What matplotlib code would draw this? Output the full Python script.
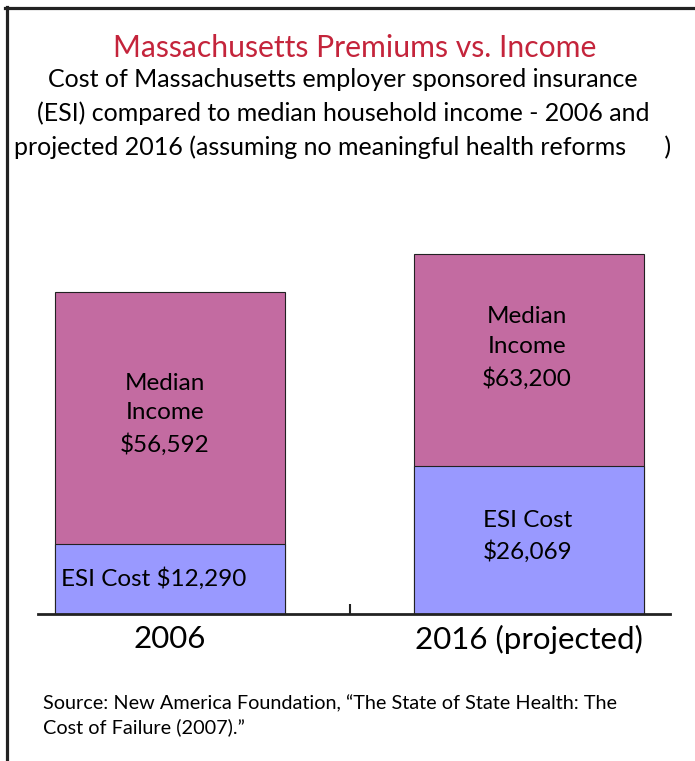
import matplotlib
matplotlib.use("Agg")
import matplotlib.pyplot as plt
from matplotlib.lines import Line2D

plt.rcParams["font.family"] = ["Lato", "DejaVu Sans"]

categories = ["2006", "2016 (projected)"]
median_income = [56592, 63200]
esi_cost = [12290, 26069]

income_labels = ["Median\nIncome\n$56,592", "Median\nIncome\n$63,200"]
esi_labels = ["ESI Cost $12,290", "ESI Cost\n$26,069"]

title = "Massachusetts Premiums vs. Income"
subtitle = ("Cost of Massachusetts employer sponsored insurance\n"
            "(ESI) compared to median household income - 2006 and\n"
            "projected 2016 (assuming no meaningful health reforms      )")
source = ("Source: New America Foundation, \u201cThe State of State Health: The\n"
          "Cost of Failure (2007).\u201d")

income_color = "#C36BA1"
esi_color = "#9999FF"

fig = plt.figure(figsize=(6.95, 7.61), dpi=100)
ax = fig.add_axes([38 / 695, 147 / 761, 632 / 695, 410 / 761])

x = [0, 1]
# income bar is full height, ESI bar drawn over its lower part
ax.bar(x, median_income, width=0.64, color=income_color, edgecolor="#222222", linewidth=0.8, zorder=2)
ax.bar(x, esi_cost, width=0.64, color=esi_color, edgecolor="#222222", linewidth=0.8, zorder=3)

ax.set_xlim(-0.368, 1.393)
ax.set_ylim(0, 72000)

for s in ["left", "right", "top"]:
    ax.spines[s].set_visible(False)
ax.spines["bottom"].set_linewidth(2)
ax.spines["bottom"].set_color("#222222")
ax.spines["bottom"].set_zorder(5)

ax.set_yticks([])
ax.set_xticks(x)
ax.set_xticklabels(categories, fontsize=22.5)
ax.tick_params(axis="x", which="major", length=0, pad=8)
ax.set_xticks([0.5], minor=True)
ax.tick_params(axis="x", which="minor", direction="in", length=7, width=1.5, color="#222222")

# labels inside the bars
ax.text(-0.015, 35100, income_labels[0], ha="center", va="center", fontsize=17.5, linespacing=1.52, zorder=4)
ax.text(0.994, 46700, income_labels[1], ha="center", va="center", fontsize=17.5, linespacing=1.52, zorder=4)
ax.text(-0.047, 6150, esi_labels[0], ha="center", va="center", fontsize=17.5, zorder=4)
ax.text(0.995, 13600, esi_labels[1], ha="center", va="center", fontsize=17.5, linespacing=1.5, zorder=4)

fig.text(354.5 / 695, 1 - 48 / 761, title, ha="center", va="center", fontsize=21.7, color="#C4243B")
fig.text(343 / 695, 1 - 113.5 / 761, subtitle, ha="center", va="center", fontsize=18, linespacing=1.52)
fig.text(43 / 695, 1 - 715.5 / 761, source, ha="left", va="center", fontsize=14.3, linespacing=1.38)

# page border lines
fig.add_artist(Line2D([6.5 / 695, 6.5 / 695], [0, 1 - 7 / 761], transform=fig.transFigure, color="#222222", linewidth=2.3))
fig.add_artist(Line2D([5 / 695, 1], [1 - 7.5 / 761, 1 - 7.5 / 761], transform=fig.transFigure, color="#222222", linewidth=2.3))

fig.savefig("out.png", dpi=100)
